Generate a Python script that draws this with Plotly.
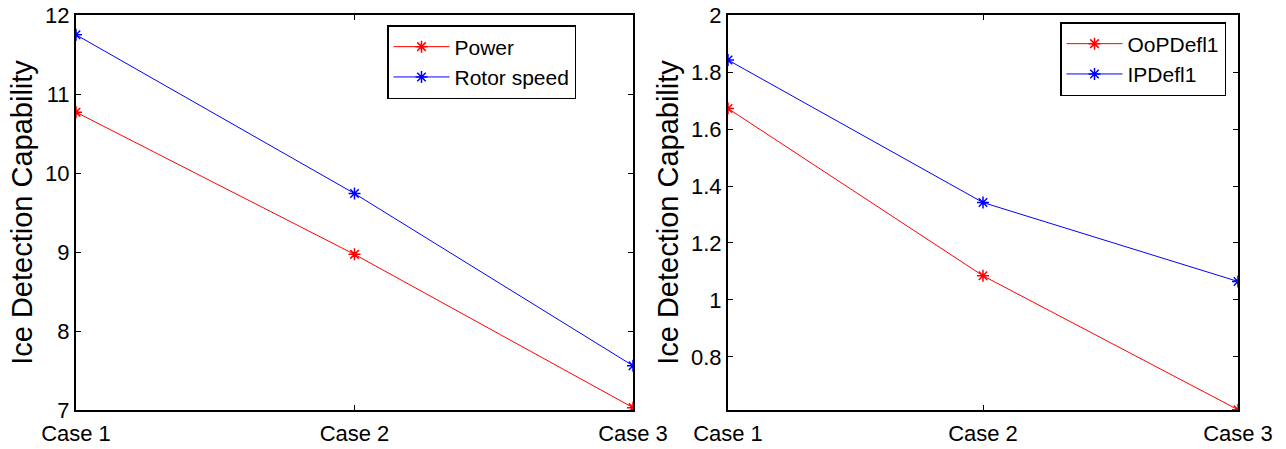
import plotly.graph_objects as go

cases = ["Case 1", "Case 2", "Case 3"]
power = [10.77, 8.97, 7.03]
rotor_speed = [11.75, 9.74, 7.56]
oop_defl1 = [1.672, 1.085, 0.615]
ip_defl1 = [1.842, 1.342, 1.065]

xpos = list(range(len(cases)))

FONT = "Liberation Sans, Arial, sans-serif"

fig = go.Figure()

def add(x, y, name, color, xa, ya, legend):
    fig.add_trace(go.Scatter(
        x=x, y=y, name=name, mode="lines+markers",
        line=dict(color=color, width=1),
        marker=dict(symbol="asterisk-open", size=10, color=color, line=dict(color=color, width=1.5)),
        xaxis=xa, yaxis=ya, legend=legend,
    ))

add(xpos, power, "Power", "#ff0000", "x", "y", "legend")
add(xpos, rotor_speed, "Rotor speed", "#0000ff", "x", "y", "legend")
add(xpos, oop_defl1, "OoPDefl1", "#ff0000", "x2", "y2", "legend2")
add(xpos, ip_defl1, "IPDefl1", "#0000ff", "x2", "y2", "legend2")

axis_common = dict(
    showline=True, linecolor="black", linewidth=2, mirror="ticks",
    ticks="inside", ticklen=5, tickcolor="black", tickwidth=1,
    showgrid=False, zeroline=False, automargin=False,
    tickfont=dict(family=FONT, size=22, color="black"),
)

ydom = [1 - 410 / 449, 1 - 15 / 449]
title_font = dict(family=FONT, size=29, color="black")

fig.update_layout(
    width=1286, height=449,
    margin=dict(l=0, r=0, t=0, b=0),
    paper_bgcolor="white", plot_bgcolor="white",
    font=dict(family=FONT, color="black"),
    xaxis=dict(domain=[76 / 1286, 633 / 1286], range=[0, 2], ticklabelstandoff=3,
               tickvals=xpos, ticktext=cases, anchor="y", **axis_common),
    yaxis=dict(domain=ydom, range=[7, 12], dtick=1, anchor="x",
               title=dict(text="Ice Detection Capability", font=title_font, standoff=4),
               **axis_common),
    xaxis2=dict(domain=[728 / 1286, 1238 / 1286], range=[0, 2], ticklabelstandoff=3,
                tickvals=xpos, ticktext=cases, anchor="y2", **axis_common),
    yaxis2=dict(domain=ydom, range=[0.614, 2], tickvals=[0.8, 1, 1.2, 1.4, 1.6, 1.8, 2],
                ticktext=["0.8", "1", "1.2", "1.4", "1.6", "1.8", "2"], anchor="x2",
                title=dict(text="Ice Detection Capability", font=title_font, standoff=4),
                **axis_common),
    legend=dict(x=576 / 1286, y=1 - 25 / 449, xref="paper", yref="paper",
                xanchor="right", yanchor="top",
                bordercolor="black", borderwidth=1.5, bgcolor="white",
                font=dict(family=FONT, size=21), tracegroupgap=0, itemwidth=56),
    legend2=dict(x=1226 / 1286, y=1 - 22 / 449, xref="paper", yref="paper",
                 xanchor="right", yanchor="top",
                 bordercolor="black", borderwidth=1.5, bgcolor="white",
                 font=dict(family=FONT, size=21), tracegroupgap=0, itemwidth=56),
    showlegend=True,
)

fig.write_html("out.html", config={"displayModeBar": False},
               post_script="document.body.style.margin='0';document.body.style.overflow='hidden';")
